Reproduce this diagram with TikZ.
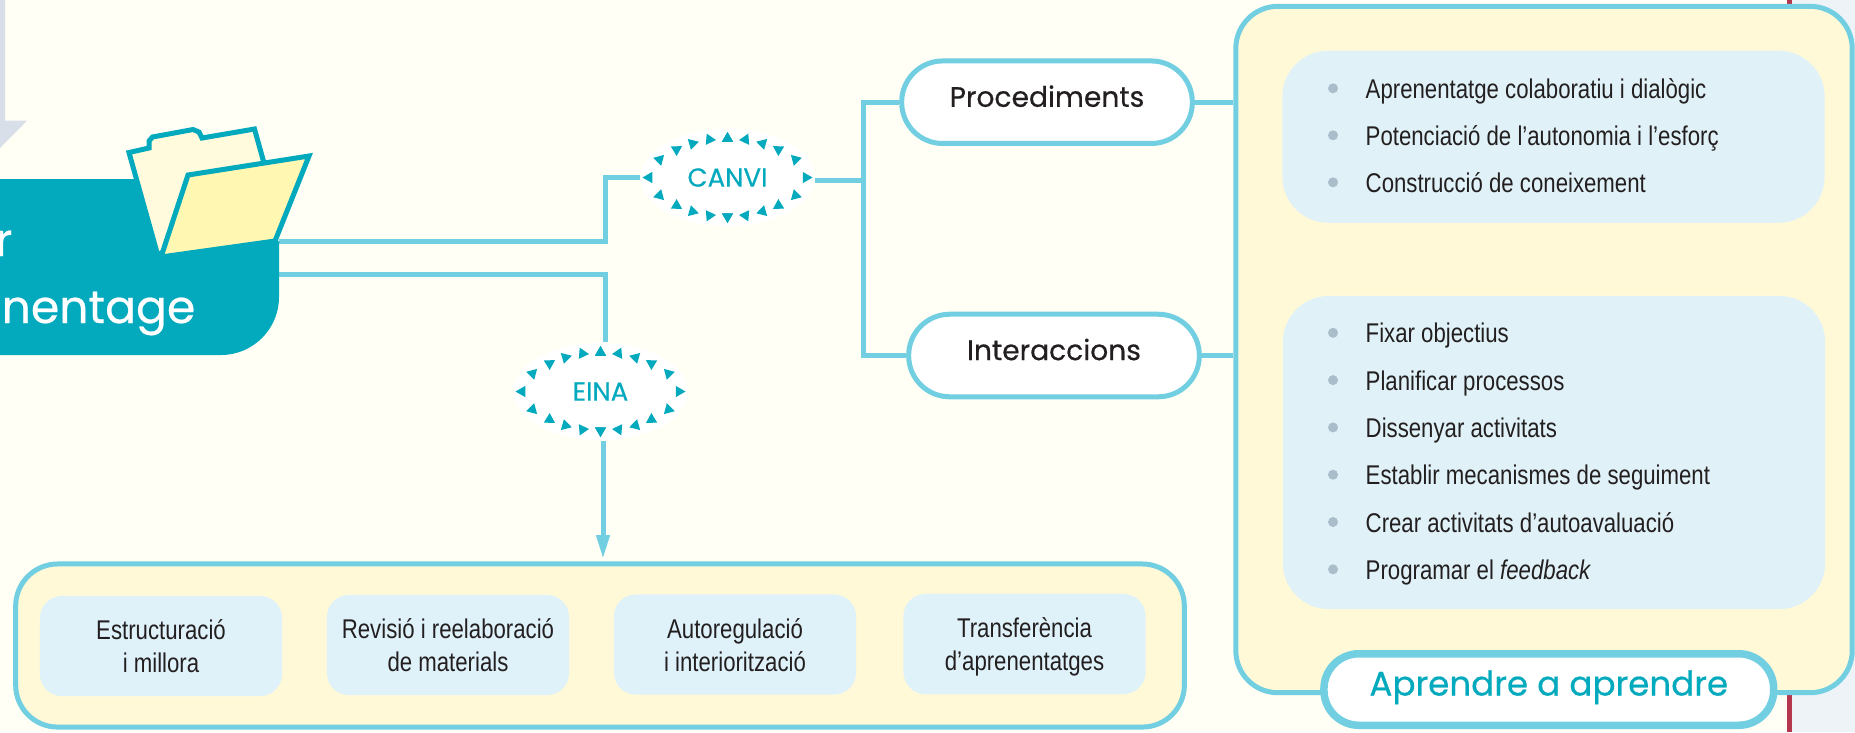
\documentclass[tikz,border=0pt]{standalone}
\usepackage{fontspec}
\setmainfont{Liberation Sans}[FakeStretch=0.82]
\newfontfamily\headfont{Poppins}[FakeBold=0.5]
\usetikzlibrary{arrows.meta}
\usetikzlibrary{shapes.geometric}

\definecolor{pagecream}{HTML}{FFFFF5}
\definecolor{sideblue}{HTML}{EEF3F8}
\definecolor{sidered}{HTML}{B5364F}
\definecolor{arrowgray}{HTML}{D9DFE8}
\definecolor{headteal}{HTML}{03A9BD}
\definecolor{linkcyan}{HTML}{72CFE2}
\definecolor{boxcream}{HTML}{FFF9D8}
\definecolor{panelblue}{HTML}{E0F2F7}
\definecolor{chipblue}{HTML}{DFF2FA}
\definecolor{bulletgray}{HTML}{A9BDCB}
\definecolor{inkdark}{HTML}{231F20}
\definecolor{sheetcream}{HTML}{FFFBDC}
\definecolor{sheetyellow}{HTML}{FFF7B2}

\newcommand\chiplines[2]{\rule[-2.8pt]{0pt}{11.46pt}#1\\\rule[-2.8pt]{0pt}{9.3pt}#2}

\tikzset{
    bodytext/.style={text=inkdark,font=\fontsize{7.7}{9.3}\selectfont},
    link/.style={draw=linkcyan,line width=0.05cm},
    outerbox/.style={rectangle,draw=linkcyan,line width=0.05cm,fill=boxcream,rounded corners=0.42cm},
    pill/.style={rectangle,draw=linkcyan,line width=0.05cm,fill=white,rounded corners=0.41cm,
        minimum width=2.905cm,minimum height=0.825cm,text=inkdark,text height=6pt,text depth=3.4pt,
        font=\headfont\fontsize{8}{9.6}\selectfont},
    panel/.style={rectangle,fill=panelblue,rounded corners=0.46cm},
    chip/.style={rectangle,fill=chipblue,rounded corners=0.22cm,minimum width=2.42cm,minimum height=1cm,
        align=center,bodytext},
    burst/.style={ellipse,fill=white,inner sep=0pt,minimum width=1.74cm,minimum height=0.97cm,
        text=headteal,font=\headfont\fontsize{7.4}{9}\selectfont},
    folderline/.style={draw=headteal,line width=0.05cm}
}

\begin{document}
\begin{tikzpicture}[x=0.01cm,y=-0.01cm]
    \useasboundingbox (0,0) rectangle (1855,732);
    % Page.
    \fill[pagecream] (0,0) rectangle (1855,732);
    \fill[sideblue] (1792,0) rectangle (1855,732);
    \fill[sidered] (1786.5,0) rectangle (1791.5,732);
    \fill[arrowgray] (0,0) -- (5,0) -- (5,120.7) -- (27,120.7) -- (0,148) -- cycle;
    % Main boxes.
    \node[outerbox,minimum width=6.16cm,minimum height=6.86cm] (learn) at (1544,349.5) {};
    \node[outerbox,minimum width=11.68cm,minimum height=1.63cm] (tasks) at (600,645.5) {};
    \node[panel,minimum width=5.42cm,minimum height=1.72cm] (panelone) at (1553.5,136.7) {};
    \node[panel,minimum width=5.42cm,minimum height=3.13cm] (paneltwo) at (1554,452.5) {};
    % Lists.
    \foreach \y/\txt [count=\n] in {88.3/Aprenentatge colaboratiu i dialògic,
        135.3/Potenciació de l’autonomia i l’esforç,
        182.3/Construcció de coneixement,
        332.8/Fixar objectius,
        380.1/Planificar processos,
        427.4/Dissenyar activitats,
        474.7/Establir mecanismes de seguiment,
        522/Crear activitats d’autoavaluació,
        569.3/Programar el \emph{feedback}} {
        \fill[bulletgray] (1333,\y) circle (5);
        \node[bodytext,anchor=base west,inner sep=0pt] (item\n) at (1365,\y+10) {\txt};
    }
    % Chips.
    \node[chip] (chipa) at (161,646) {\chiplines{Estructuració}{i millora}};
    \node[chip] (chipb) at (448,645) {\chiplines{Revisió i reelaboració}{de materials}};
    \node[chip] (chipc) at (735,644.5) {\chiplines{Autoregulació}{i interiorització}};
    \node[chip] (chipd) at (1024.5,644) {\chiplines{Transferència}{d’aprenentatges}};
    % Labels.
    \node[pill] (proc) at (1047,102.2) {Procediments};
    \node[pill] (inter) at (1054,355.5) {Interaccions};
    \node[burst] (canvi) at (727.5,177.5) {CANVI};
    \node[burst] (eina) at (600.5,391.5) {EINA};
    \foreach \c in {canvi,eina}
      \foreach \sx in {1,-1}
        \foreach \dx/\dy in {0/-39,18/-38,35/-34,51/-28,68/-18,78.5/0,68/18,51/28,35/34,18/38,0/39} {
          \pgfmathsetmacro\ang{atan2(-\dy,\sx*\dx)}
          \fill[headteal,shift={(\c)},shift={(\sx*\dx,\dy)},rotate=\ang] (0:6.5) -- (120:6.5) -- (240:6.5) -- cycle;
        }
    \node[pill,line width=0.075cm,minimum width=4.495cm,minimum height=0.715cm,rounded corners=0.35cm,
        text=headteal,text depth=2.6pt,font=\headfont\fontsize{9.7}{12}\selectfont] (goal) at (1548.8,689.5) {Aprendre a aprendre};
    % Connectors.
    \coordinate (headup) at (279,241);
    \coordinate (headdown) at (279,274.3);
    \coordinate (elbowa) at (605,241);
    \coordinate (elbowb) at (605,274.3);
    \coordinate (trunk) at (863.5,180);
    \coordinate (tip) at (603,559);
    \draw[link] (headup) -- (elbowa) |- (canvi.west);
    \draw[link] (canvi.east |- trunk) -- (trunk);
    \draw[link] (proc.west) -| (trunk) |- (inter.west);
    \draw[link] (proc.east) -- (proc.east -| learn.west);
    \draw[link] (inter.east) -- (inter.east -| learn.west);
    \draw[link] (headdown) -- (elbowb) -- (elbowb |- eina.north);
    \draw[link,-{Triangle[length=6.8pt,width=3.6pt]}] (tip |- eina.south) -- (tip);
    % Header.
    \fill[headteal] (-100,179) -- (135,179) -- (158,257) -- (279,241) [rounded corners=0.58cm] -- (279,355) -- (-100,355) [sharp corners] -- cycle;
    \node[text=white,font=\headfont\fontsize{13}{15}\selectfont,anchor=base east,inner sep=0pt] (headtop) at (13,256) {r};
    \node[text=white,font=\headfont\fontsize{13}{15}\selectfont,anchor=base east,inner sep=0pt] (headlow) at (196,323) {nentage};
    % Folder.
    \filldraw[folderline,fill=sheetcream] (129,152.5) -- (149,148) -- (149,141) -- (152.5,137) -- (193,129.5) -- (199,132) -- (202,138) -- (254.5,129) -- (264,163) -- (158,256) -- cycle;
    \filldraw[folderline,fill=sheetyellow] (309,156) -- (275,241) -- (161,257) -- (188,175) -- cycle;
\end{tikzpicture}
\end{document}
